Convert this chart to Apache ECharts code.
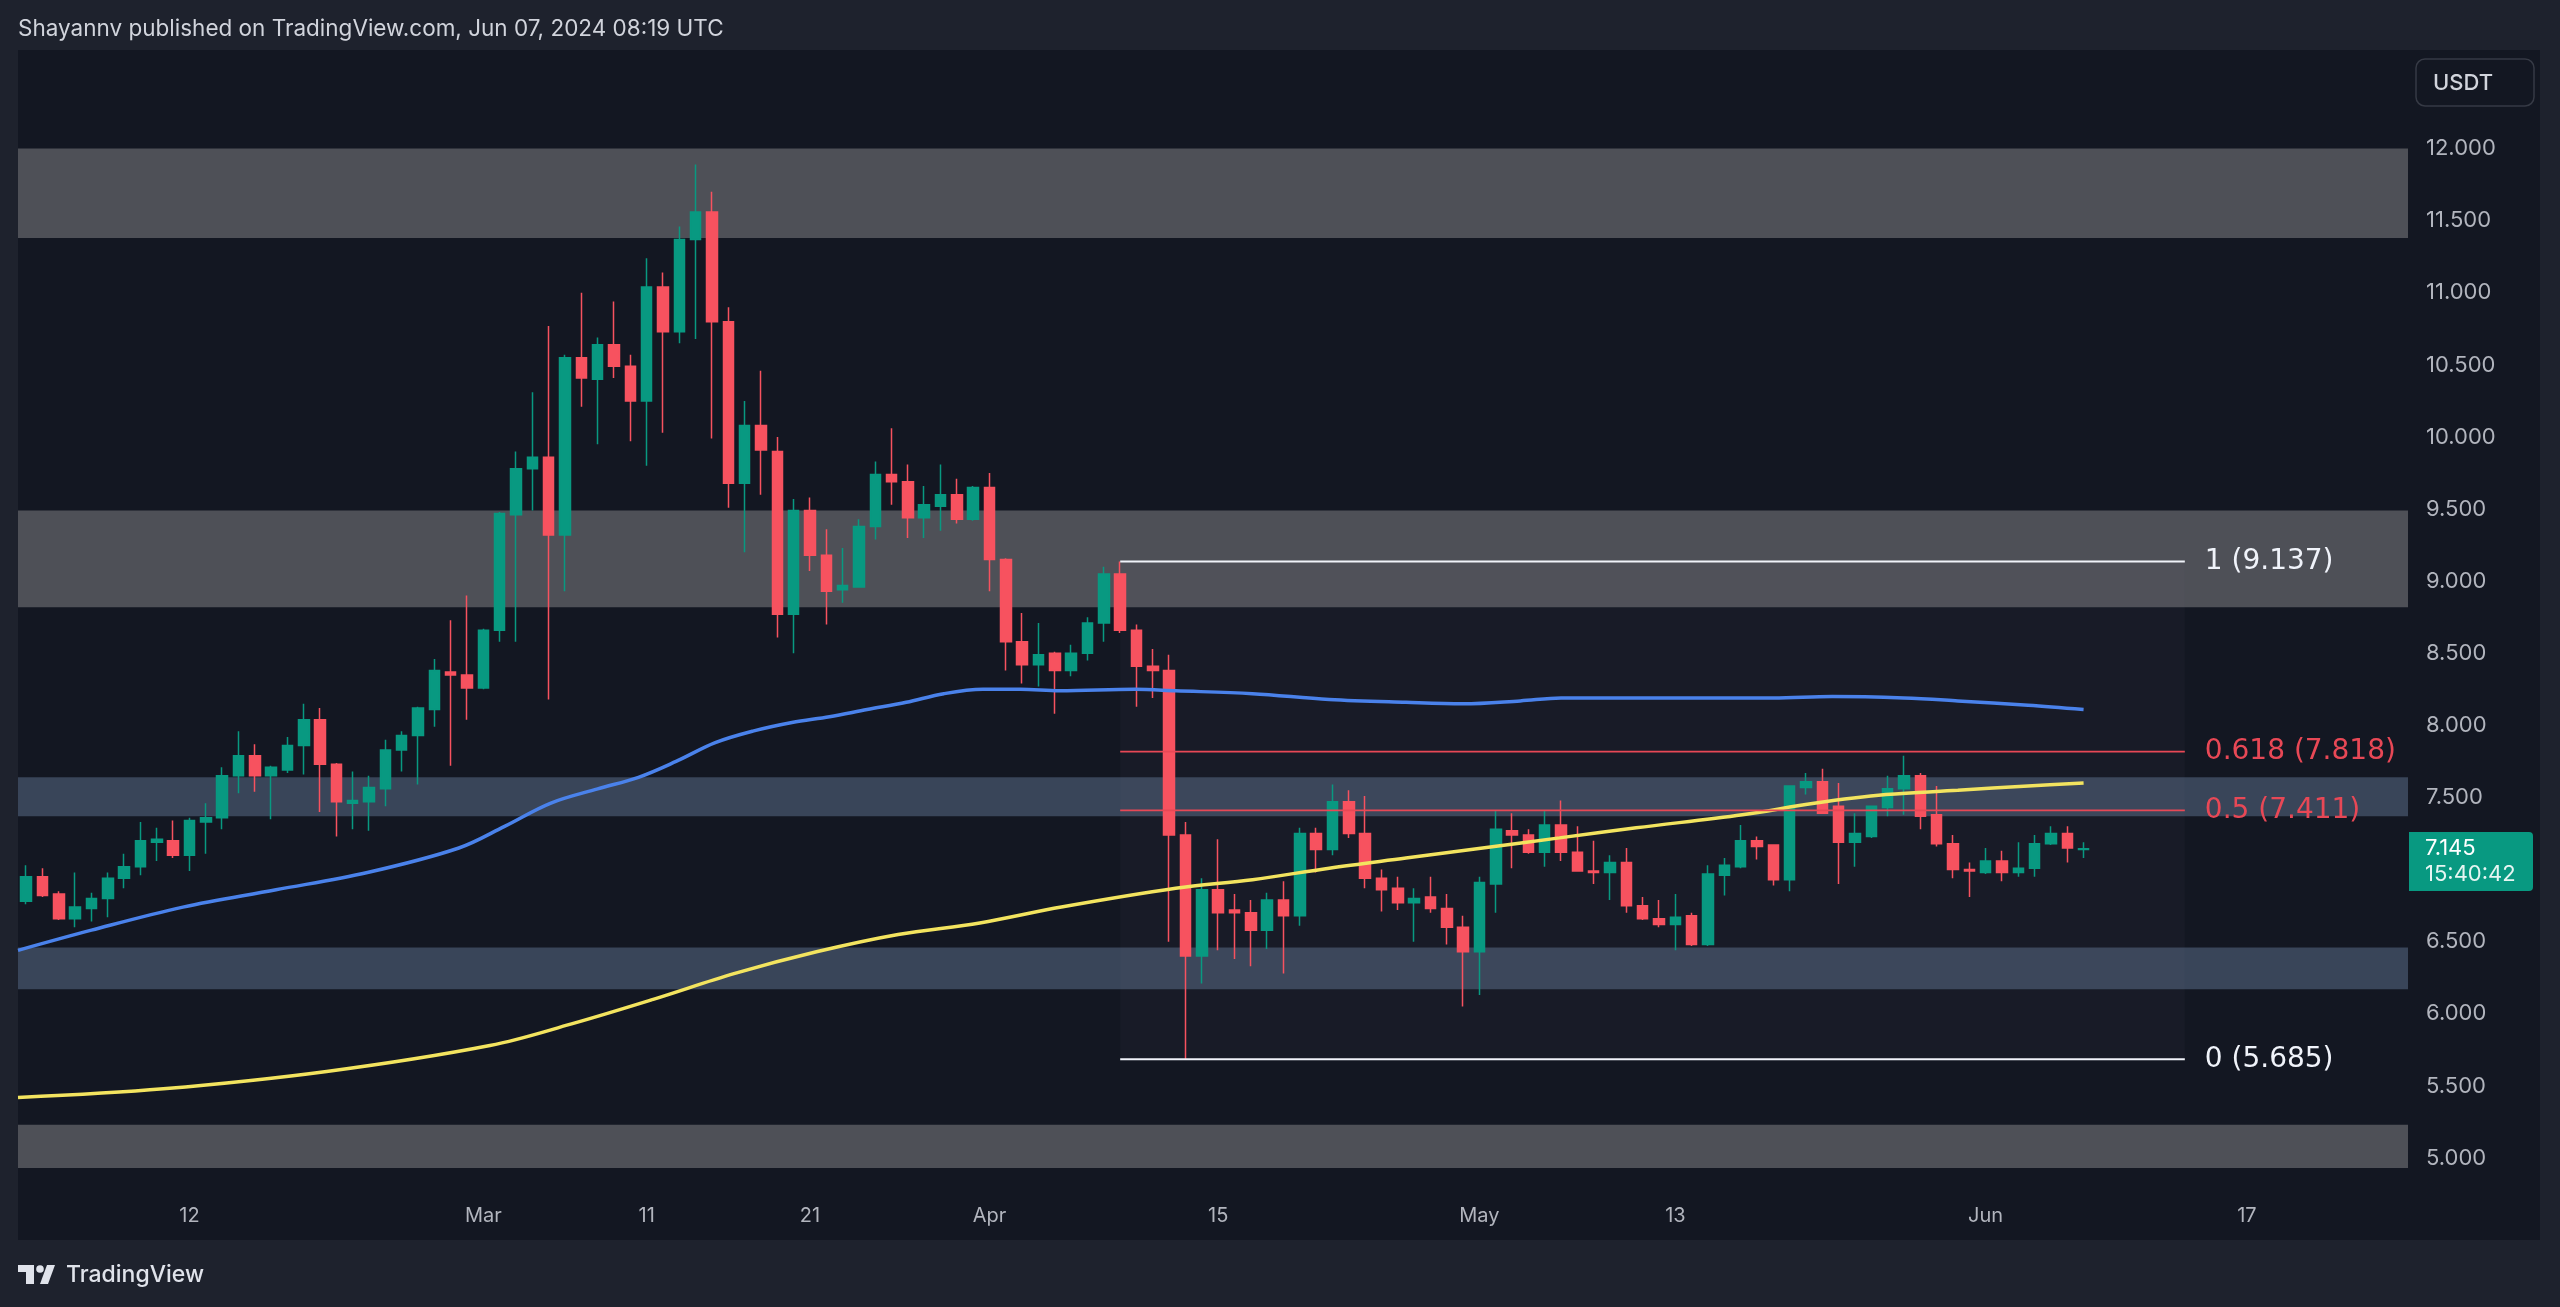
<!DOCTYPE html>
<html><head><meta charset="utf-8">
<script src="https://cdn.jsdelivr.net/npm/echarts@6/dist/echarts.min.js"></script>
<style>html,body{margin:0;padding:0;background:#1e222d;}#c{width:2560px;height:1307px;}</style>
</head><body><div id="c"></div>
<script>
// ---------- DATA ----------
const firstDate = '2024-02-02';
const lastAxisDate = '2024-06-26';
// [open, close, low, high] daily, Feb 2 .. Jun 7 2024
const candles = [
[6.78,6.95,6.76,7.03],[6.95,6.82,6.81,7.01],[6.83,6.66,6.65,6.85],[6.66,6.74,6.60,6.98],[6.73,6.80,6.64,6.84],
[6.80,6.94,6.67,6.98],[6.94,7.02,6.87,7.11],[7.02,7.20,6.96,7.33],[7.19,7.21,7.06,7.29],[7.20,7.10,7.08,7.34],
[7.10,7.34,6.99,7.36],[7.33,7.36,7.11,7.46],[7.36,7.65,7.28,7.71],[7.65,7.79,7.53,7.96],[7.79,7.65,7.54,7.87],
[7.65,7.71,7.35,7.72],[7.69,7.86,7.67,7.92],[7.86,8.04,7.66,8.15],[8.04,7.73,7.40,8.12],[7.73,7.47,7.23,7.74],
[7.46,7.48,7.28,7.68],[7.47,7.57,7.27,7.65],[7.56,7.83,7.44,7.90],[7.83,7.93,7.68,7.96],[7.93,8.12,7.59,8.13],
[8.11,8.38,7.99,8.46],[8.37,8.35,7.72,8.73],[8.35,8.26,8.04,8.90],[8.26,8.66,8.25,8.67],[8.66,9.47,8.58,9.48],
[9.46,9.78,8.58,9.90],[9.78,9.86,9.49,10.31],[9.86,9.32,8.18,10.77],[9.32,10.55,8.93,10.57],[10.55,10.41,10.21,11.00],
[10.40,10.64,9.95,10.69],[10.64,10.49,10.41,10.94],[10.49,10.25,9.97,10.57],[10.25,11.04,9.80,11.24],[11.04,10.73,10.03,11.14],
[10.73,11.37,10.65,11.46],[11.37,11.56,10.68,11.89],[11.56,10.80,9.99,11.70],[10.80,9.68,9.51,10.90],[9.68,10.08,9.20,10.25],
[10.08,9.91,9.60,10.46],[9.90,8.77,8.61,10.00],[8.77,9.49,8.50,9.57],[9.49,9.18,9.07,9.58],[9.18,8.93,8.70,9.36],
[8.94,8.97,8.85,9.23],[8.96,9.38,8.96,9.43],[9.38,9.74,9.29,9.83],[9.74,9.69,9.53,10.06],[9.69,9.44,9.30,9.81],
[9.44,9.53,9.30,9.66],[9.52,9.60,9.35,9.81],[9.60,9.43,9.40,9.71],[9.43,9.65,9.42,9.66],[9.65,9.15,8.93,9.75],
[9.15,8.58,8.38,9.16],[8.58,8.42,8.29,8.78],[8.42,8.49,8.27,8.71],[8.50,8.38,8.08,8.51],[8.38,8.50,8.34,8.56],
[8.50,8.71,8.45,8.75],[8.71,9.05,8.58,9.10],[9.05,8.66,8.64,9.137],[8.66,8.41,8.13,8.70],[8.41,8.38,8.19,8.53],
[8.38,7.24,6.50,8.49],[7.24,6.40,5.685,7.33],[6.40,6.86,6.21,6.94],[6.86,6.70,6.44,7.21],[6.72,6.70,6.38,6.83],
[6.70,6.58,6.33,6.79],[6.58,6.79,6.45,6.84],[6.79,6.68,6.28,6.92],[6.68,7.25,6.61,7.29],[7.25,7.14,6.98,7.29],
[7.14,7.47,7.10,7.59],[7.47,7.25,7.22,7.55],[7.25,6.94,6.87,7.51],[6.94,6.86,6.71,7.00],[6.87,6.77,6.72,6.95],
[6.77,6.80,6.50,6.87],[6.81,6.73,6.70,6.95],[6.73,6.60,6.48,6.83],[6.60,6.43,6.05,6.68],[6.43,6.91,6.13,6.95],
[6.90,7.28,6.70,7.41],[7.27,7.24,7.01,7.39],[7.24,7.12,7.11,7.28],[7.12,7.31,7.02,7.41],[7.31,7.12,7.06,7.48],
[7.12,6.99,6.99,7.30],[6.99,6.98,6.90,7.20],[6.98,7.05,6.79,7.10],[7.05,6.75,6.70,7.15],[6.75,6.66,6.65,6.81],
[6.66,6.62,6.60,6.79],[6.62,6.67,6.44,6.83],[6.68,6.48,6.47,6.70],[6.48,6.97,6.47,7.03],[6.96,7.03,6.82,7.08],
[7.02,7.20,7.01,7.31],[7.20,7.16,7.07,7.23],[7.17,6.93,6.89,7.17],[6.93,7.58,6.85,7.58],[7.57,7.61,7.52,7.67],
[7.61,7.39,7.39,7.70],[7.44,7.19,6.90,7.60],[7.19,7.25,7.02,7.39],[7.23,7.44,7.22,7.44],[7.43,7.56,7.37,7.65],
[7.56,7.65,7.38,7.79],[7.65,7.37,7.28,7.67],[7.38,7.18,7.16,7.58],[7.18,7.00,6.94,7.24],[7.00,6.99,6.81,7.05],
[6.98,7.06,6.97,7.15],[7.06,6.98,6.92,7.13],[6.98,7.01,6.95,7.19],[7.01,7.18,6.95,7.24],[7.18,7.25,7.17,7.30],
[7.25,7.15,7.05,7.30],[7.14,7.145,7.08,7.19]
];
// moving averages: [day index from firstDate, value]
const maBlue = [[-0.5,6.44],[4,6.58],[9.6,6.74],[15.3,6.86],[20.9,6.98],[26.5,7.15],[29.3,7.30],[32.1,7.46],[35,7.56],
[37.5,7.64],[39.8,7.75],[42.2,7.88],[44.5,7.96],[46.9,8.02],[49.2,8.06],[51.5,8.11],[53.9,8.16],[56.2,8.22],[58.6,8.25],
[60.9,8.25],[63.3,8.24],[67.9,8.25],[70.4,8.24],[75.1,8.22],[79.8,8.18],[84.5,8.16],[88,8.15],[91.5,8.17],[94,8.19],
[100,8.19],[107,8.19],[110.6,8.20],[115,8.19],[118.3,8.17],[122.6,8.14],[126,8.11]];
const maYellow = [[-0.5,5.42],[8.4,5.48],[18.4,5.60],[28.4,5.78],[33.4,5.93],[38.4,6.10],[43.4,6.28],[48.4,6.43],
[53.4,6.55],[58.4,6.63],[63.4,6.74],[70.4,6.87],[75.1,6.93],[79.8,7.01],[84.5,7.08],[89.2,7.15],[93.9,7.22],[98.6,7.29],
[105.1,7.38],[109.5,7.46],[113.9,7.52],[118.3,7.55],[122.6,7.58],[126,7.60]];
const grayZones = [[11.38,12.0],[8.82,9.49],[4.93,5.23]];
const blueZones = [[7.37,7.64],[6.17,6.46]];
const fibLevels = [['1',9.137],['0.618',7.818],['0.5',7.411],['0',5.685]];
const fibStart = '2024-04-09';
const fibEnd = '2024-06-13';
const tickLabels = [['2024-02-12','12'],['2024-03-01','Mar'],['2024-03-11','11'],['2024-03-21','21'],['2024-04-01','Apr'],
['2024-04-15','15'],['2024-05-01','May'],['2024-05-13','13'],['2024-06-01','Jun'],['2024-06-17','17']];
const priceTicks = [5,5.5,6,6.5,7,7.5,8,8.5,9,9.5,10,10.5,11,11.5,12];
const lastPrice = 7.145;
const countdown = '15:40:42';
const headerText = 'Shayannv published on TradingView.com, Jun 07, 2024 08:19 UTC';

// ---------- BUILD ----------
const dates = [];
for (let t = Date.parse(firstDate + 'T00:00:00Z'); t <= Date.parse(lastAxisDate + 'T00:00:00Z'); t += 86400000) {
  dates.push(new Date(t).toISOString().slice(0, 10));
}
const tickMap = {}; tickLabels.forEach(([d, l]) => tickMap[d] = l);
const fibI0 = dates.indexOf(fibStart), fibI1 = dates.indexOf(fibEnd) + 0.2;

const Y_MIN = 4.7781, Y_MAX = 12.6907;
const FONT = 'Inter, Roboto, "Noto Sans", sans-serif';
const FIB_FONT = '"DejaVu Sans", Inter, sans-serif';
const UP = '#089981', DOWN = '#f7525f';

const chart = echarts.init(document.getElementById('c'), null, {renderer: 'canvas'});
const option = {
  animation: false,
  backgroundColor: '#1e222d',
  grid: [
    {left: 18, top: 49, width: 2390, height: 1141},
    {left: 18, top: 49, width: 2384, height: 1141}
  ],
  xAxis: [
    {type: 'category', gridIndex: 1, data: dates, boundaryGap: true,
     axisLine: {show: false}, axisTick: {show: false}, splitLine: {show: false},
     axisLabel: {interval: (i, v) => tickMap[v] !== undefined, formatter: v => tickMap[v] || '',
       color: '#b2b5be', fontSize: 20, fontFamily: FONT, margin: 16}},
    {type: 'value', gridIndex: 1, min: -0.5, max: dates.length - 0.5, show: false},
    {type: 'value', gridIndex: 0, min: 0, max: 1, show: false}
  ],
  yAxis: [
    {type: 'value', gridIndex: 0, position: 'right', min: Y_MIN, max: Y_MAX,
     axisLine: {show: false}, axisTick: {show: false}, splitLine: {show: false},
     axisLabel: {customValues: priceTicks, formatter: v => v.toFixed(3), color: '#b2b5be',
       fontSize: 22, fontFamily: FONT, margin: 18, align: 'left'}},
    {type: 'value', gridIndex: 1, min: Y_MIN, max: Y_MAX, show: false}
  ],
  series: [
    {type: 'custom', xAxisIndex: 2, yAxisIndex: 0, z: 1, silent: true,
     data: grayZones.map(z => [z[0], z[1], 0]).concat(blueZones.map(z => [z[0], z[1], 1])),
     renderItem: (params, api) => {
       const cs = params.coordSys;
       const yLo = api.coord([0, api.value(0)])[1], yHi = api.coord([0, api.value(1)])[1];
       const top = Math.max(yHi, cs.y), bot = Math.min(yLo, cs.y + cs.height);
       return {type: 'rect', shape: {x: cs.x, y: top, width: cs.width, height: bot - top},
         style: {fill: api.value(2) ? '#394559' : '#4e5057'}};
     }},
    {type: 'custom', xAxisIndex: 1, yAxisIndex: 1, z: 2, silent: true,
     data: [[fibLevels[0][1], fibLevels[fibLevels.length - 1][1]]],
     renderItem: (params, api) => {
       const p0 = api.coord([fibI0, api.value(0)]), p1 = api.coord([fibI1, api.value(1)]);
       return {type: 'rect', shape: {x: p0[0], y: p0[1], width: p1[0] - p0[0], height: p1[1] - p0[1]},
         style: {fill: 'rgba(120,123,134,0.05)'}};
     }},
    {type: 'candlestick', xAxisIndex: 0, yAxisIndex: 1, z: 5, barWidth: 11,
     data: candles,
     itemStyle: {color: UP, color0: DOWN, borderColor: UP, borderColor0: DOWN, borderWidth: 1.5}},
    {type: 'line', xAxisIndex: 1, yAxisIndex: 1, z: 6, data: maBlue, smooth: 0.35, showSymbol: false,
     lineStyle: {color: '#4a82eb', width: 3.5}},
    {type: 'line', xAxisIndex: 1, yAxisIndex: 1, z: 6, data: maYellow, smooth: 0.35, showSymbol: false,
     lineStyle: {color: '#f3e45f', width: 3.5}},
    {type: 'custom', xAxisIndex: 1, yAxisIndex: 1, z: 7, silent: true,
     data: fibLevels.map(f => [f[1]]),
     renderItem: (params, api) => {
       const lvl = fibLevels[params.dataIndex];
       const white = (lvl[0] === '1' || lvl[0] === '0');
       const col = white ? '#f0f3fa' : '#e84856';
       const a = api.coord([fibI0, api.value(0)]), b = api.coord([fibI1, api.value(0)]);
       return {type: 'group', children: [
         {type: 'line', shape: {x1: a[0], y1: a[1], x2: b[0], y2: b[1]}, style: {stroke: col, lineWidth: white ? 2 : 1.6}},
         {type: 'text', x: b[0] + 20, y: b[1], style: {text: lvl[0] + ' (' + lvl[1].toFixed(3) + ')', fill: col,
           font: '28px ' + FIB_FONT, verticalAlign: 'middle', align: 'left'}}
       ]};
     }}
  ],
  graphic: [
    {type: 'rect', z: -10, shape: {x: 18, y: 50, width: 2522, height: 1190}, style: {fill: '#131722'}},
    {type: 'text', z: 100, x: 18, y: 29, style: {text: headerText, fill: '#d1d4dc', font: '22.5px ' + FONT, verticalAlign: 'middle'}},
    {type: 'rect', z: 100, shape: {x: 2416, y: 59, width: 118, height: 47, r: 9}, style: {fill: 'transparent', stroke: '#363a45', lineWidth: 1.5}},
    {type: 'text', z: 101, x: 2463, y: 83, style: {text: 'USDT', fill: '#d1d4dc', font: '500 22px ' + FONT, align: 'center', verticalAlign: 'middle'}},
    {type: 'rect', z: 100, shape: {x: 2409, y: 832, width: 124, height: 59, r: [0, 4, 4, 0]}, style: {fill: '#089981'}},
    {type: 'text', z: 101, x: 2425, y: 848, style: {text: lastPrice.toFixed(3), fill: '#ffffff', font: '22px ' + FONT, verticalAlign: 'middle'}},
    {type: 'text', z: 101, x: 2425, y: 874, style: {text: countdown, fill: '#e6f5f2', font: '22px ' + FONT, verticalAlign: 'middle'}},
    // TradingView logo
    {type: 'rect', z: 100, shape: {x: 18, y: 1265, width: 16, height: 7}, style: {fill: '#e0e3eb'}},
    {type: 'rect', z: 100, shape: {x: 26, y: 1265, width: 8, height: 19}, style: {fill: '#e0e3eb'}},
    {type: 'circle', z: 100, shape: {cx: 40, cy: 1269, r: 3.8}, style: {fill: '#e0e3eb'}},
    {type: 'polygon', z: 100, shape: {points: [[40, 1284], [47, 1265], [55, 1265], [48, 1284]]}, style: {fill: '#e0e3eb'}},
    {type: 'text', z: 100, x: 66, y: 1275, style: {text: 'TradingView', fill: '#e0e3eb', font: '500 23px ' + FONT, verticalAlign: 'middle'}}
  ]
};
chart.setOption(option);
</script></body></html>
